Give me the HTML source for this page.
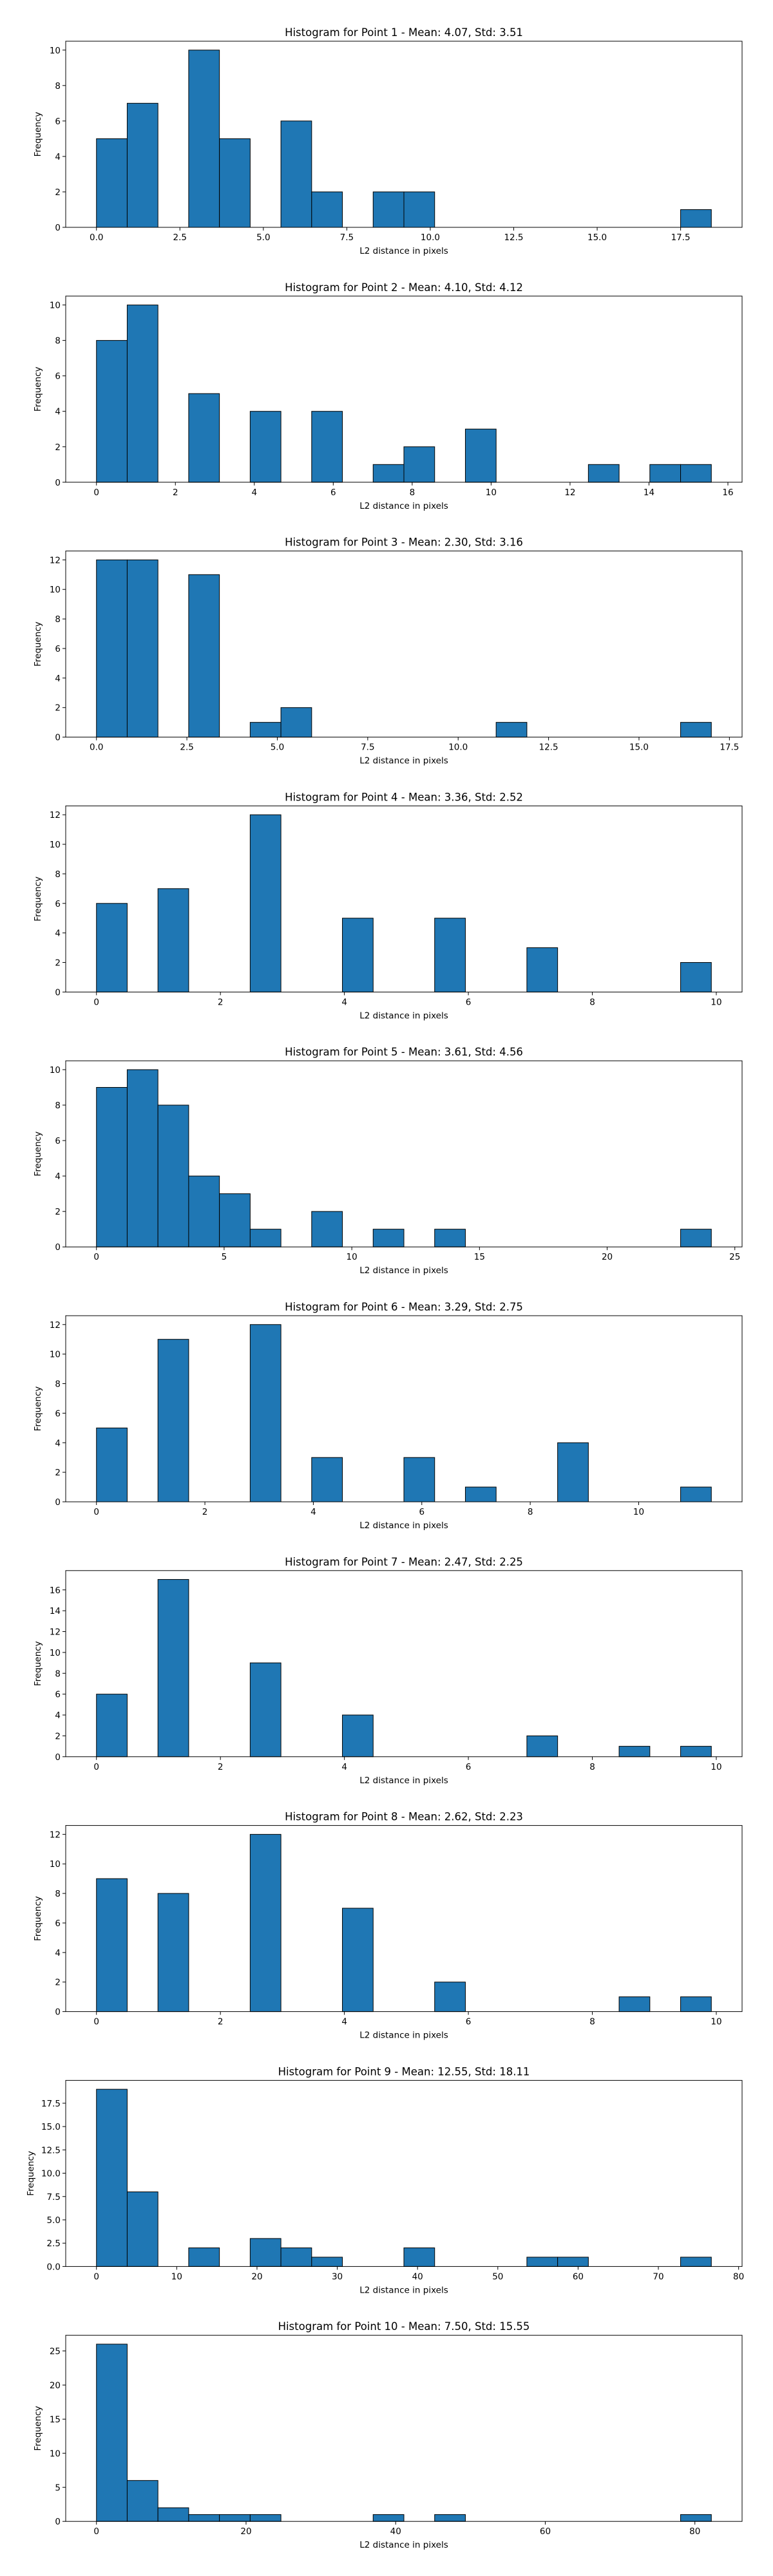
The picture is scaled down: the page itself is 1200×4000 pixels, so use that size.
<!DOCTYPE html>
<html><head><meta charset="utf-8">
<style>
html,body{margin:0;padding:0;background:#fff;}
svg{display:block;font-family:"DejaVu Sans","Liberation Sans",sans-serif;}
</style></head>
<body>
<svg id="fig" width="1200" height="4000" viewBox="0 0 1200 4000" xmlns="http://www.w3.org/2000/svg"></svg>
<script>
const titles = [
 "Histogram for Point 1 - Mean: 4.07, Std: 3.51",
 "Histogram for Point 2 - Mean: 4.10, Std: 4.12",
 "Histogram for Point 3 - Mean: 2.30, Std: 3.16",
 "Histogram for Point 4 - Mean: 3.36, Std: 2.52",
 "Histogram for Point 5 - Mean: 3.61, Std: 4.56",
 "Histogram for Point 6 - Mean: 3.29, Std: 2.75",
 "Histogram for Point 7 - Mean: 2.47, Std: 2.25",
 "Histogram for Point 8 - Mean: 2.62, Std: 2.23",
 "Histogram for Point 9 - Mean: 12.55, Std: 18.11",
 "Histogram for Point 10 - Mean: 7.50, Std: 15.55"
];
const dataMax = [18.42, 15.58, 17.0, 9.92, 24.08, 11.34, 9.92, 9.92, 76.6, 82.2];
const counts1 = [5,7,0,10,5,0,6,2,0,2,2,0,0,0,0,0,0,0,0,1];
const counts2 = [8,10,0,5,0,4,0,4,0,1,2,0,3,0,0,0,1,0,1,1];
const counts3 = [12,12,0,11,0,1,2,0,0,0,0,0,0,1,0,0,0,0,0,1];
const counts4 = [6,0,7,0,0,12,0,0,5,0,0,5,0,0,3,0,0,0,0,2];
const counts5 = [9,10,8,4,3,1,0,2,0,1,0,1,0,0,0,0,0,0,0,1];
const counts6 = [5,0,11,0,0,12,0,3,0,0,3,0,1,0,0,4,0,0,0,1];
const counts7 = [6,0,17,0,0,9,0,0,4,0,0,0,0,0,2,0,0,1,0,1];
const counts8 = [9,0,8,0,0,12,0,0,7,0,0,2,0,0,0,0,0,1,0,1];
const counts9 = [19,8,0,2,0,3,2,1,0,0,2,0,0,0,1,1,0,0,0,1];
const counts10 = [26,6,2,1,1,1,0,0,0,1,0,1,0,0,0,0,0,0,0,1];
const allCounts = [counts1,counts2,counts3,counts4,counts5,counts6,counts7,counts8,counts9,counts10];
const xTicks = [
 [0,2.5,5,7.5,10,12.5,15,17.5],
 [0,2,4,6,8,10,12,14,16],
 [0,2.5,5,7.5,10,12.5,15,17.5],
 [0,2,4,6,8,10],
 [0,5,10,15,20,25],
 [0,2,4,6,8,10],
 [0,2,4,6,8,10],
 [0,2,4,6,8,10],
 [0,10,20,30,40,50,60,70,80],
 [0,20,40,60,80]
];
const xDec = [1,0,1,0,0,0,0,0,0,0];
const yTicks = [
 [0,2,4,6,8,10],
 [0,2,4,6,8,10],
 [0,2,4,6,8,10,12],
 [0,2,4,6,8,10,12],
 [0,2,4,6,8,10],
 [0,2,4,6,8,10,12],
 [0,2,4,6,8,10,12,14,16],
 [0,2,4,6,8,10,12],
 [0,2.5,5,7.5,10,12.5,15,17.5],
 [0,5,10,15,20,25]
];
const yDec = [0,0,0,0,0,0,0,0,1,0];

const NS = "http://www.w3.org/2000/svg";
const svg = document.getElementById('fig');
function mk(tag, attrs, parent){
  const e = document.createElementNS(NS, tag);
  for (const k in attrs) e.setAttribute(k, attrs[k]);
  parent.appendChild(e);
  return e;
}
const L = 102, R = 1152;
for (let p = 0; p < 10; p++) {
  const top = 64 + p * 395.8, H = 289, bottom = top + H;
  const cnt = allCounts[p];
  const dmax = dataMax[p];
  const ymaxC = Math.max(...cnt) * 1.05;
  const x0 = -0.05 * dmax, x1 = 1.05 * dmax;
  const xs = v => L + (v - x0) / (x1 - x0) * (R - L);
  const ys = v => bottom - v / ymaxC * H;
  const g = mk('g', {}, svg);
  
  
  const t = mk('text', {x: (L + R) / 2, y: top - 8, 'text-anchor': 'middle', 'font-size': '16.5', fill: '#000'}, g);
  t.textContent = titles[p];
  
  
  const bw = dmax / cnt.length;
  for (let i = 0; i < cnt.length; i++) {
    if (cnt[i] <= 0) continue;
    const xa = xs(i * bw), xb = xs((i + 1) * bw);
    const r = mk('rect', {x: xa, y: ys(cnt[i]), width: xb - xa, height: bottom - ys(cnt[i]), fill: '#1f77b4', stroke: '#000', 'stroke-width': 1}, g);
    
    
  }
  const frame = mk('rect', {x: L, y: top, width: R - L, height: H, fill: 'none', stroke: '#000', 'stroke-width': 1}, g);
  
  
  xTicks[p].forEach(v => {
    const x = xs(v);
    mk('line', {x1: x, x2: x, y1: bottom, y2: bottom + 5, stroke: '#000', 'stroke-width': 1}, g);
    const tl = mk('text', {x: x, y: bottom + 20, 'text-anchor': 'middle', 'font-size': '13.5', fill: '#000'}, g);
    tl.textContent = v.toFixed(xDec[p]);
    
    
  });
  yTicks[p].forEach(v => {
    const y = ys(v);
    mk('line', {x1: L - 5, x2: L, y1: y, y2: y, stroke: '#000', 'stroke-width': 1}, g);
    const tl = mk('text', {x: L - 8, y: y + 5, 'text-anchor': 'end', 'font-size': '13.5', fill: '#000'}, g);
    tl.textContent = v.toFixed(yDec[p]);
    
    
  });
  const xl = mk('text', {x: (L + R) / 2, y: bottom + 41, 'text-anchor': 'middle', 'font-size': '13.5', fill: '#000'}, g);
  xl.textContent = 'L2 distance in pixels';
  
  
  const yx = p === 8 ? 52 : 63;
  const yl = mk('text', {x: yx, y: top + H / 2, 'text-anchor': 'middle', 'font-size': '13.5', fill: '#000', transform: 'rotate(-90 ' + yx + ' ' + (top + H / 2) + ')'}, g);
  yl.textContent = 'Frequency';
  
  
}
</script>
</body></html>
